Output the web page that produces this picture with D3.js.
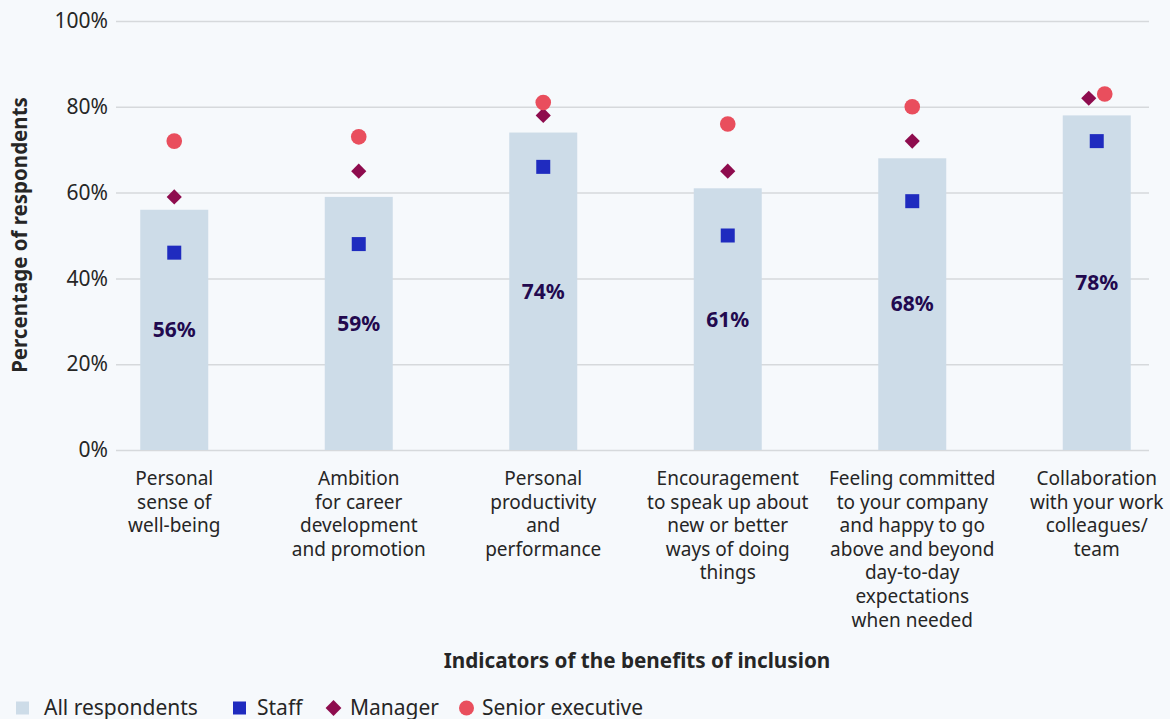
<!DOCTYPE html>
<html>
<head>
<meta charset="utf-8">
<script src="https://cdn.jsdelivr.net/npm/d3@7"></script>
<style>
  html, body { margin: 0; padding: 0; background: #f6f9fc; }
  svg { display: block; font-family: "Noto Sans", "Open Sans", sans-serif; }
</style>
</head>
<body>
<svg id="chart" width="1170" height="719"></svg>
<script>
// Survey indicators and percentages by group
const categories = [
  ["Personal", "sense of", "well-being"],
  ["Ambition", "for career", "development", "and promotion"],
  ["Personal", "productivity", "and", "performance"],
  ["Encouragement", "to speak up about", "new or better", "ways of doing", "things"],
  ["Feeling committed", "to your company", "and happy to go", "above and beyond", "day-to-day", "expectations", "when needed"],
  ["Collaboration", "with your work", "colleagues/", "team"]
];
const allRespondents = [56, 59, 74, 61, 68, 78];
const staff = [46, 48, 66, 50, 58, 72];
const manager = [59, 65, 78, 65, 72, 82];
const seniorExecutive = [72, 73, 81, 76, 80, 83];
const yTicks = [0, 20, 40, 60, 80, 100];
const legendLabels = ["All respondents", "Staff", "Manager", "Senior executive"];

const colors = {
  bar: "#cddce8",
  staff: "#1f2bbf",
  manager: "#8e0c4e",
  senior: "#e94e5d",
  grid: "#d6d9dc",
  text: "#262626",
  label: "#22094f"
};

const svg = d3.select("#chart");
const keys = d3.range(categories.length);

const x = d3.scaleBand().domain(keys).range([82, 1189]).paddingInner(0).paddingOuter(0);
const barW = 68;
const y = d3.scaleLinear().domain([0, 100]).range([450, 21]);

// Grid lines and y tick labels
const yAxis = d3.axisLeft(y).tickValues(yTicks).tickSize(-(1149 - 116)).tickFormat(d => d + "%");
const gy = svg.append("g").attr("transform", "translate(116,0)").call(yAxis);
gy.select(".domain").remove();
gy.selectAll(".tick line").attr("stroke", colors.grid).attr("stroke-width", 1.5);
gy.selectAll(".tick text").attr("x", -8).attr("fill", colors.text)
  .style("font-size", "21px").style("font-family", "'Noto Sans', sans-serif");

const cx = i => x(i) + x.bandwidth() / 2;

// Bars for all respondents
svg.append("g").selectAll("rect").data(allRespondents).join("rect")
  .attr("x", (d, i) => cx(i) - barW / 2)
  .attr("y", d => y(d))
  .attr("width", barW)
  .attr("height", d => y(0) - y(d))
  .attr("fill", colors.bar);

// Value labels at bar mid-height
svg.append("g").selectAll("text").data(allRespondents).join("text")
  .attr("x", (d, i) => cx(i))
  .attr("y", d => (y(d) + y(0)) / 2)
  .attr("dy", "0.35em")
  .attr("text-anchor", "middle")
  .attr("fill", colors.label)
  .style("font-size", "21px").style("font-weight", "bold")
  .text(d => d + "%");

// Nudge manager/senior markers apart when they nearly coincide
const nudge = i => Math.abs(seniorExecutive[i] - manager[i]) < 3 ? 8 : 0;

// Staff squares
const sq = 14;
svg.append("g").selectAll("rect").data(staff).join("rect")
  .attr("x", (d, i) => cx(i) - sq / 2)
  .attr("y", d => y(d) - sq / 2)
  .attr("width", sq).attr("height", sq)
  .attr("fill", colors.staff);

// Manager diamonds
const diamond = d3.symbol().type(d3.symbolSquare).size(115);
svg.append("g").selectAll("path").data(manager).join("path")
  .attr("d", diamond)
  .attr("transform", (d, i) => `translate(${cx(i) - nudge(i)},${y(d)}) rotate(45)`)
  .attr("fill", colors.manager);

// Senior executive circles
svg.append("g").selectAll("circle").data(seniorExecutive).join("circle")
  .attr("cx", (d, i) => cx(i) + nudge(i))
  .attr("cy", d => y(d))
  .attr("r", 7.8)
  .attr("fill", colors.senior);

// Category labels
const catG = svg.append("g");
categories.forEach((lines, i) => {
  const t = catG.append("text")
    .attr("text-anchor", "middle")
    .attr("fill", colors.text)
    .style("font-size", "19px");
  lines.forEach((line, j) => {
    t.append("tspan").attr("x", cx(i)).attr("y", 485 + j * 23.6).text(line);
  });
});

// Axis titles
svg.append("text")
  .attr("x", 637).attr("y", 668)
  .attr("text-anchor", "middle")
  .attr("fill", colors.text)
  .style("font-size", "20.7px").style("font-weight", "bold")
  .text("Indicators of the benefits of inclusion");

svg.append("text")
  .attr("transform", "translate(27,235) rotate(-90)")
  .attr("text-anchor", "middle")
  .attr("fill", colors.text)
  .style("font-size", "20.5px").style("font-weight", "bold")
  .text("Percentage of respondents");

// Legend
const lg = svg.append("g").attr("transform", "translate(0,708)");
const legendItems = [
  { x: 16, tx: 44, label: legendLabels[0], draw: g => g.append("rect").attr("x", 0).attr("y", -6.5).attr("width", 13).attr("height", 13).attr("fill", colors.bar) },
  { x: 233, tx: 257, label: legendLabels[1], draw: g => g.append("rect").attr("x", 0).attr("y", -6.5).attr("width", 13).attr("height", 13).attr("fill", colors.staff) },
  { x: 325, tx: 350, label: legendLabels[2], draw: g => g.append("path").attr("d", d3.symbol().type(d3.symbolSquare).size(125)).attr("transform", "translate(8.5,0) rotate(45)").attr("fill", colors.manager) },
  { x: 459, tx: 482, label: legendLabels[3], draw: g => g.append("circle").attr("cx", 7.5).attr("cy", 0).attr("r", 7.5).attr("fill", colors.senior) }
];
legendItems.forEach(item => {
  const g = lg.append("g").attr("transform", `translate(${item.x},0)`);
  item.draw(g);
  lg.append("text").attr("x", item.tx).attr("y", 0).attr("dy", "0.35em")
    .attr("fill", colors.text).style("font-size", "21px").text(item.label);
});
</script>
</body>
</html>
